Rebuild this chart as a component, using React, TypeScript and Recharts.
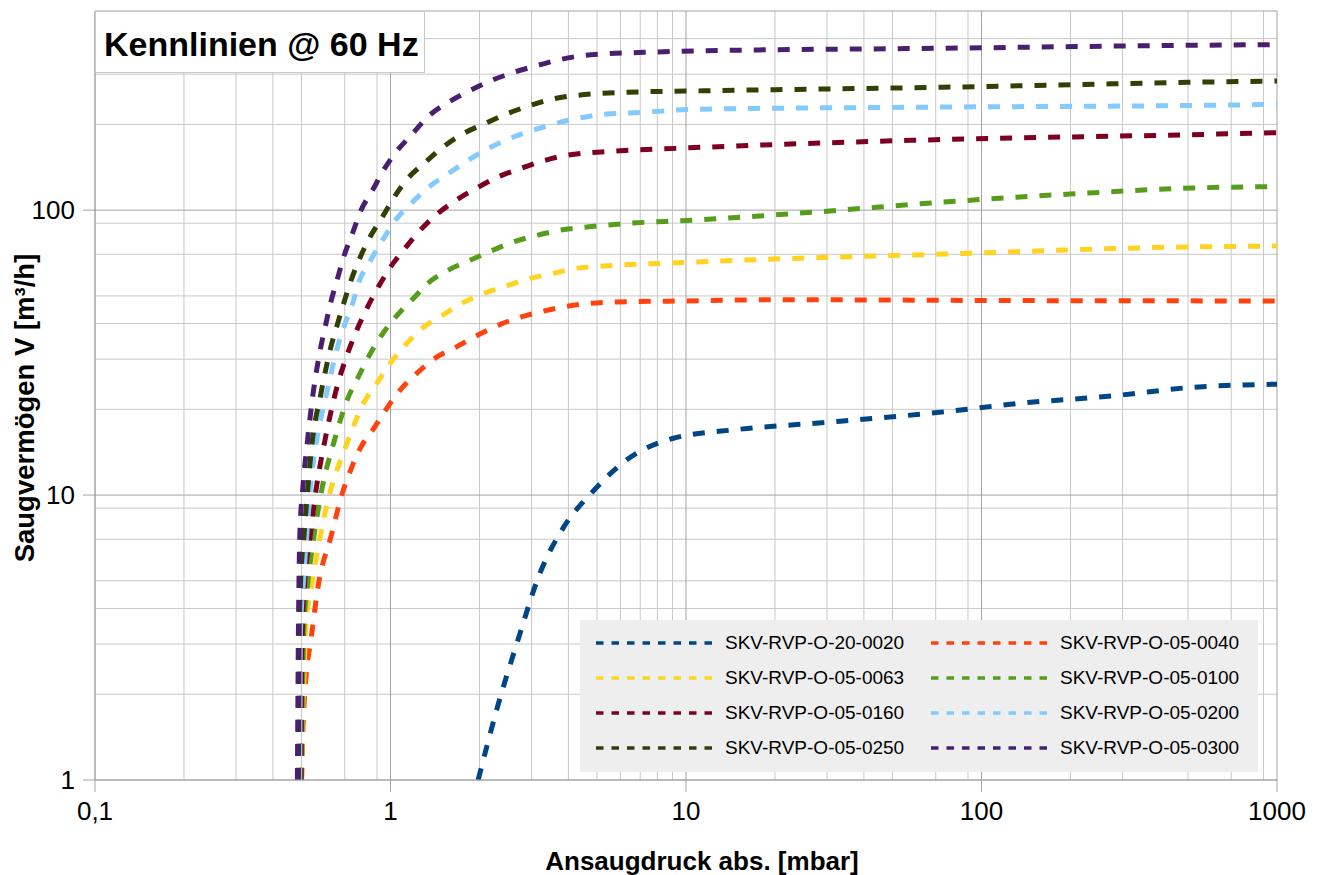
import React from 'react';
import { CartesianGrid, Legend, Line, LineChart, XAxis, YAxis } from 'recharts';

// pressure [mbar] / flow [m³/h] pairs
const p0020 = [1.98, 2.3, 2.7, 3.2, 3.85, 4.8, 6.3, 9, 15, 30, 75, 135, 280, 520, 1000];
const q0020 = [1, 1.8, 3.1, 5.3, 7.7, 10.2, 13.3, 15.8, 17, 18, 19.6, 21, 22.3, 23.9, 24.5];

const p0040 = [0.5, 0.503, 0.508, 0.516, 0.54, 0.571, 0.627, 0.688, 0.732, 0.79, 0.87, 0.96, 1.08, 1.23, 1.42, 1.66, 1.97, 2.32, 2.75, 3.29, 3.97, 5.7, 10, 20, 100, 1000];
const q0040 = [1, 1.3, 1.7, 2.2, 3.2, 4.9, 7.07, 10.2, 12.2, 14.6, 16.9, 19.8, 23.4, 26.8, 30.3, 33, 36.4, 39.5, 42.1, 44.2, 46, 47.6, 48, 48.5, 48.2, 48];

const p0063 = [0.5, 0.503, 0.51, 0.516, 0.543, 0.577, 0.627, 0.704, 0.81, 0.904, 1, 1.12, 1.28, 1.5, 1.75, 2.1, 2.48, 2.97, 3.56, 4.3, 10.6, 74, 509, 1000];
const q0063 = [1, 1.5, 2.3, 3.36, 4.9, 7.1, 10.4, 14.7, 21, 24.9, 29.1, 33.5, 38.5, 42.8, 47.2, 51.3, 54.3, 57.6, 60, 62.6, 65.7, 70.1, 74.3, 74.8];

const p0100 = [0.5, 0.503, 0.509, 0.525, 0.55, 0.587, 0.643, 0.719, 0.774, 0.843, 0.925, 1.04, 1.19, 1.34, 1.57, 1.86, 2.21, 2.6, 3.14, 3.76, 4.5, 6.5, 10.1, 27, 74, 199, 520, 1000];
const q0100 = [1, 1.8, 3.36, 4.9, 7.1, 10.6, 15.3, 22, 25.7, 30.6, 35.9, 42.1, 48.8, 55.4, 61.6, 66.7, 72.2, 77.3, 81.6, 85.1, 87, 90, 92, 98.4, 106.7, 113.9, 119.6, 121];

const p0160 = [0.498, 0.5, 0.503, 0.512, 0.534, 0.561, 0.598, 0.648, 0.727, 0.774, 0.836, 0.91, 1, 1.12, 1.26, 1.44, 1.66, 1.97, 2.32, 2.75, 3.29, 3.97, 5.68, 9.6, 74, 509, 1000];
const q0160 = [1, 2.2, 3.36, 4.9, 7.1, 10.6, 15.3, 22.4, 32.8, 38.5, 45.7, 53.8, 63.1, 73.5, 85, 97, 108, 120, 131, 140, 149, 156, 161, 165, 177, 184, 187];

const p0200 = [0.493, 0.496, 0.507, 0.52, 0.536, 0.561, 0.606, 0.66, 0.699, 0.744, 0.779, 0.856, 0.94, 1.04, 1.19, 1.34, 1.56, 1.82, 2.15, 2.55, 3.04, 3.66, 4.4, 5.25, 7, 10.6, 74, 509, 1000];
const q0200 = [1, 3.36, 4.9, 7.1, 10.6, 15.3, 22.4, 32.8, 39.5, 47, 55.4, 66.7, 78.5, 92.3, 107, 120, 134, 149, 165, 179, 191, 202, 211, 217, 220, 226, 230, 233, 235];

const p0250 = [0.488, 0.491, 0.496, 0.509, 0.525, 0.543, 0.58, 0.627, 0.66, 0.694, 0.732, 0.79, 0.849, 0.94, 1.04, 1.15, 1.31, 1.51, 1.77, 2.1, 2.48, 2.97, 3.56, 4.3, 6.1, 10.6, 74, 509, 1000];
const q0250 = [1, 3.36, 4.9, 7.1, 10.6, 15.3, 22.4, 32.8, 39.5, 47, 55.9, 68.4, 79.9, 94.8, 113, 130, 147, 167, 186, 202, 218, 233, 246, 253, 259, 262, 270, 281, 284];

const p0300 = [0.484, 0.486, 0.488, 0.49, 0.493, 0.505, 0.523, 0.546, 0.58, 0.603, 0.627, 0.662, 0.694, 0.744, 0.79, 0.87, 0.947, 1.04, 1.19, 1.34, 1.57, 1.86, 2.21, 2.6, 3.14, 3.76, 4.5, 5.4, 7.2, 10.9, 74, 520, 1000];
const q0300 = [1, 1.9, 3.36, 4.9, 7.1, 10.6, 15.3, 22.4, 32.8, 39.5, 47.2, 57.6, 68.4, 83, 98.6, 117.6, 138, 159, 186, 213, 239, 263, 286, 304, 322, 338, 349, 354, 358, 362, 370, 379, 381];

const X_TICKS = [0.1, 1, 10, 100, 1000];
const Y_TICKS = [1, 10, 100];
const X_MINOR = [0.2, 0.3, 0.4, 0.5, 0.6, 0.7, 0.8, 0.9, 2, 3, 4, 5, 6, 7, 8, 9, 20, 30, 40, 50, 60, 70, 80, 90, 200, 300, 400, 500, 600, 700, 800, 900];
const Y_MINOR = [2, 3, 4, 5, 6, 7, 8, 9, 20, 30, 40, 50, 60, 70, 80, 90, 200, 300, 400];

const zip = (p: number[], q: number[]) => p.map((v, i) => ({ p: v, q: q[i] }));

const SERIES = [
  { name: 'SKV-RVP-O-20-0020', color: '#004586', data: zip(p0020, q0020) },
  { name: 'SKV-RVP-O-05-0040', color: '#ff420e', data: zip(p0040, q0040) },
  { name: 'SKV-RVP-O-05-0063', color: '#ffd320', data: zip(p0063, q0063) },
  { name: 'SKV-RVP-O-05-0100', color: '#579d1c', data: zip(p0100, q0100) },
  { name: 'SKV-RVP-O-05-0160', color: '#7e0021', data: zip(p0160, q0160) },
  { name: 'SKV-RVP-O-05-0200', color: '#83caff', data: zip(p0200, q0200) },
  { name: 'SKV-RVP-O-05-0250', color: '#314004', data: zip(p0250, q0250) },
  { name: 'SKV-RVP-O-05-0300', color: '#4b1f6f', data: zip(p0300, q0300) },
];

const FONT = '"Liberation Sans", Arial, sans-serif';

function LegendBox() {
  return (
    <div
      style={{
        position: 'relative',
        width: 678,
        height: 152,
        background: '#eeeeee',
        fontFamily: FONT,
        fontSize: 19,
        color: '#000',
      }}
    >
      {SERIES.map((s, i) => {
        const col = i % 2;
        const row = Math.floor(i / 2);
        const left = col === 0 ? 16 : 351;
        const cy = 23 + row * 35;
        return (
          <div key={s.name}>
            <svg
              width={122}
              height={10}
              style={{ position: 'absolute', left, top: cy - 5 }}
            >
              <line x1={0} y1={5} x2={122} y2={5} stroke={s.color} strokeWidth={3.5} strokeDasharray="7.5 8" />
            </svg>
            <span
              style={{
                position: 'absolute',
                left: left + 129,
                top: cy - 11,
                lineHeight: '22px',
                whiteSpace: 'nowrap',
              }}
            >
              {s.name}
            </span>
          </div>
        );
      })}
    </div>
  );
}

export default function App() {
  return (
    <div style={{ position: 'relative', width: 1310, height: 867 }}>
      <LineChart width={1310} height={867} margin={{ top: 3, right: 41, left: 17, bottom: 0 }}>
        <CartesianGrid stroke="#c8c8c8" horizontalValues={Y_MINOR} verticalValues={X_MINOR} />
        <CartesianGrid stroke="#a3a3a3" horizontalValues={[1, 10, 100, 500]} verticalValues={X_TICKS} />
        <XAxis
          dataKey="p"
          type="number"
          scale="log"
          domain={[0.1, 1000]}
          allowDataOverflow
          ticks={X_TICKS}
          tickFormatter={(v: number) => String(v).replace('.', ',')}
          tick={{ fontSize: 26, fill: '#000', fontFamily: FONT }}
          tickSize={12}
          tickMargin={10}
          stroke="#a3a3a3"
          height={95}
          label={() => (
            <text x={694} y={862} textAnchor="middle" fontFamily={FONT} fontSize={26} fontWeight="bold" fill="#000">
              Ansaugdruck abs. [mbar]
            </text>
          )}
        />
        <YAxis
          type="number"
          scale="log"
          domain={[1, 500]}
          allowDataOverflow
          ticks={Y_TICKS}
          tick={{ fontSize: 26, fill: '#000', fontFamily: FONT }}
          tickSize={12}
          tickMargin={8}
          stroke="#a3a3a3"
          width={70}
          label={() => (
            <text
              x={26}
              y={400}
              transform="rotate(-90 26 400)"
              textAnchor="middle"
              fontFamily={FONT}
              fontSize={27.5}
              fontWeight="bold"
              fill="#000"
            >
              Saugvermögen V [m³/h]
            </text>
          )}
        />
        {SERIES.map((s) => (
          <Line
            key={s.name}
            data={s.data}
            dataKey="q"
            name={s.name}
            type="monotone"
            stroke={s.color}
            strokeWidth={5}
            strokeDasharray="12 12"
            dot={false}
            activeDot={false}
            isAnimationActive={false}
          />
        ))}
        <Legend
          layout="vertical"
          align="center"
          verticalAlign="middle"
          wrapperStyle={{ left: 572, top: 612, width: 678, height: 152 }}
          content={() => <LegendBox />}
        />
      </LineChart>
      <div
        style={{
          position: 'absolute',
          left: 87,
          top: 3,
          width: 330,
          height: 62,
          boxSizing: 'border-box',
          background: '#fff',
          border: '1px solid #c8c8c8',
          fontFamily: FONT,
          fontSize: 34,
          fontWeight: 'bold',
          lineHeight: '60px',
          paddingLeft: 8,
          paddingTop: 2,
          whiteSpace: 'nowrap',
        }}
      >
        Kennlinien @ 60 Hz
      </div>
    </div>
  );
}
